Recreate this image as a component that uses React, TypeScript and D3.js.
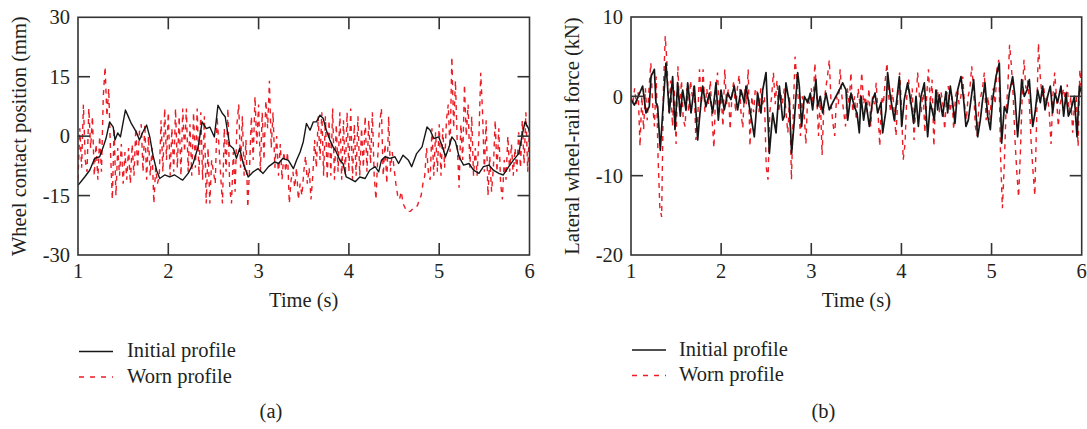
import React from 'react';
import * as d3 from 'd3';

// ---------- data ----------
const timeTicks = [1, 2, 3, 4, 5, 6];
const contactTicks = [-30, -15, 0, 15, 30];
const forceTicks = [-20, -10, 0, 10];
const seriesNames = ['Initial profile', 'Worn profile'];

// (a) wheel contact position, initial profile: [time, mm]
const contactInitial: [number, number][] = [
  [1.0,-12.4],[1.074,-10.3],[1.13,-8.6],[1.185,-5.6],[1.24,-5.2],[1.28,-2.7],[1.31,-0.6],[1.35,3.6],[1.39,2.3],[1.41,-1.0],
  [1.44,0.8],[1.47,-0.2],[1.49,2.3],[1.525,6.6],[1.55,5.3],[1.59,3.2],[1.645,1.1],[1.68,-1.0],[1.72,1.1],[1.76,2.8],
  [1.795,-0.2],[1.83,-4.8],[1.87,-8.6],[1.905,-10.7],[1.96,-9.8],[2.015,-10.3],[2.07,-9.8],[2.13,-10.7],[2.16,-11.1],[2.22,-9.4],
  [2.275,-6.9],[2.33,-2.7],[2.375,3.6],[2.42,1.9],[2.46,2.3],[2.51,-0.2],[2.55,7.8],[2.6,5.7],[2.63,4.9],[2.68,-2.3],
  [2.72,-3.1],[2.755,-5.6],[2.79,-3.1],[2.83,-6.9],[2.885,-10.3],[2.94,-9.0],[2.995,-8.2],[3.05,-9.4],[3.11,-7.7],[3.18,-6.5],
  [3.22,-6.9],[3.27,-5.6],[3.33,-6.1],[3.385,-8.2],[3.42,-6.1],[3.46,-4.0],[3.495,-1.4],[3.53,3.2],[3.57,1.5],[3.605,3.6],
  [3.64,3.6],[3.68,5.3],[3.715,4.5],[3.75,1.5],[3.79,-1.0],[3.825,-2.7],[3.86,-4.0],[3.9,-6.1],[3.935,-6.9],[3.97,-10.3],
  [4.01,-10.7],[4.07,-11.5],[4.12,-10.3],[4.18,-10.7],[4.23,-8.6],[4.29,-7.7],[4.33,-9.0],[4.36,-6.1],[4.4,-5.2],[4.455,-5.6],
  [4.51,-5.2],[4.55,-6.9],[4.6,-4.8],[4.66,-6.1],[4.695,-7.7],[4.75,-4.4],[4.81,-2.7],[4.865,2.3],[4.9,1.5],[4.94,-0.6],
  [4.995,-0.2],[5.03,-2.3],[5.07,-5.2],[5.11,-2.7],[5.14,-0.2],[5.18,-1.4],[5.22,-5.2],[5.27,-7.3],[5.33,-6.9],[5.38,-8.6],
  [5.44,-9.4],[5.49,-7.7],[5.55,-7.3],[5.6,-8.6],[5.66,-9.4],[5.71,-9.8],[5.77,-7.7],[5.82,-6.1],[5.88,-4.4],[5.915,-0.2],
  [5.95,3.6],[5.99,1.9],[6.0,1.0],
];

// (a) wheel contact position, worn profile: sampled every 0.02 s from t = 1
const contactWorn: number[] = [
  -11, 2, -8, 8, -6,   -9, 7, -3, 5, -10,   -2, -11, 0, -9, 10,   17.5, 5, 12, -4, -16,
  2, -15, -3, -10, -2,   -12, -4, -11, -3, -12,   -2, -10, 2, -8, 1,   3, -9, 3, -11, 0,
  -10, -3, -17, -8, -12,   -10, 4, -9, 7, -6,   6, -10, 2, -9, 7,   -8, 5, -10, 7, -4,
  7, -9, 3, -10, 6,   -8, 7, -10, 6, -11,   5, -17, -3, -17, -6,   -9, -12, 5, -2, -10,
  -17, 2, -9, 7, -13,   -17, -4, -14, 3, 8,   -8, 5, -10, -1, -18,   -8, 5, -6, 10, -2,
  8, -9, 6, -6, 9,   2, 14, -3, 6, -8,   0, -10, -2, -11, -4,   -9, -4, -17, -11, -9,
  -13, -8, -16, -12, -15,   -9, -5, -12, -8, -16,   -10, -1, -8, 5, -6,   6, -10, 5, -11, 4,
  -10, 7, -11, 3, -9,   6, -11, 4, -10, 6,   -9, 7, -11, 3, -10,   5, -10, 2, -8, 5,
  -9, 4, -7, 6, -10,   -16, -5, 3, 7, -10,   -2, -12, 5, -9, -4,   -8, -12, -15, -16, -14,
  -17, -18, -19, -19, -19,   -18.5, -18, -18, -17.5, -16,   -15, -12, -10, -3, -9,   -11, 2, -10, 1, -9,
  3, -10, 2, -8, 4,   8, -4, 20, 2, 14,   -2, -13, 3, -6, 13,   0, 8, -8, 5, -10,
  -3, -10, 0, 16, 6,   -9, 4, -15, -5, -14,   -8, 4, -9, 2, -12,   -16, -6, -11, 0, -9,
  -2, -10, -3, -9, 1,   -8, 4, -7, 6, -9,   2,
];

// (b) lateral wheel-rail force, initial profile: [time, kN]
const forceInitial: [number, number][] = [
  [1.0,-0.4],[1.037,-1.1],[1.074,-0.2],[1.129,1.3],[1.148,-0.4],[1.166,-2.1],[1.203,-1.3],[1.222,2.5],[1.259,3.4],[1.277,-0.8],
  [1.296,-1.3],[1.325,-6.8],[1.351,-2.1],[1.388,4.2],[1.425,-2.1],[1.462,2.5],[1.488,-4.2],[1.518,1.7],[1.547,-2.5],[1.573,0.8],
  [1.61,-1.7],[1.629,1.7],[1.666,-2.1],[1.703,1.3],[1.74,-5.5],[1.758,-3.0],[1.795,1.3],[1.832,-1.3],[1.869,0.4],[1.906,-2.1],
  [1.943,1.7],[1.969,-3.0],[1.998,0.8],[2.035,-1.7],[2.072,0.4],[2.109,-0.4],[2.146,1.3],[2.183,-1.7],[2.22,0.8],[2.257,-0.8],
  [2.276,1.3],[2.313,-1.3],[2.331,-2.5],[2.368,-5.1],[2.405,0.4],[2.442,-2.1],[2.461,0.8],[2.498,3.0],[2.535,-7.2],[2.572,-2.1],
  [2.609,-4.6],[2.646,1.3],[2.683,-3.0],[2.701,-2.5],[2.719,1.7],[2.756,-0.8],[2.782,-7.2],[2.812,-3.0],[2.849,3.0],[2.867,1.3],
  [2.893,-3.8],[2.923,0],[2.96,-0.8],[2.989,0.4],[3.015,-1.7],[3.052,2.1],[3.071,-1.3],[3.1,0],[3.126,-2.1],[3.163,0.4],
  [3.2,-1.7],[3.237,-0.8],[3.274,0],[3.311,0.8],[3.348,1.7],[3.385,0.8],[3.404,-3.0],[3.441,0.4],[3.478,-1.3],[3.507,-2.1],
  [3.533,-4.6],[3.552,0],[3.581,-3.0],[3.607,-0.8],[3.644,-3.8],[3.681,-0.4],[3.707,0.4],[3.736,-2.1],[3.773,-0.8],[3.792,-4.6],
  [3.829,-1.7],[3.847,3.0],[3.877,0],[3.921,-3.0],[3.94,-1.3],[3.977,2.5],[4.003,-3.8],[4.032,-0.4],[4.069,1.7],[4.106,-0.8],
  [4.136,-3.4],[4.162,0],[4.188,-3.8],[4.217,0],[4.254,1.7],[4.291,-5.1],[4.321,-0.8],[4.365,-3.0],[4.383,0.8],[4.402,-1.7],
  [4.42,0.2],[4.457,-2.5],[4.494,0.6],[4.513,-2.1],[4.542,1.3],[4.568,-0.8],[4.594,-3.4],[4.624,0.8],[4.661,2.5],[4.69,-0.4],
  [4.716,-3.8],[4.742,-3.0],[4.772,-0.4],[4.801,2.1],[4.827,-2.1],[4.846,-5.1],[4.875,-3.0],[4.901,-0.4],[4.927,1.7],[4.957,-2.5],
  [4.986,-4.2],[5.012,-0.4],[5.049,2.5],[5.086,4.2],[5.112,-5.9],[5.142,-1.3],[5.171,-2.1],[5.197,0.4],[5.234,2.5],[5.26,0],
  [5.289,-5.1],[5.319,-0.8],[5.334,2.1],[5.363,0],[5.393,0.8],[5.419,2.1],[5.456,-3.8],[5.482,-2.1],[5.511,0.8],[5.541,-0.8],
  [5.567,1.3],[5.593,-1.7],[5.622,0],[5.652,1.3],[5.678,-2.1],[5.704,0.4],[5.733,-0.8],[5.77,1.3],[5.8,-2.5],[5.826,0.4],
  [5.852,-2.5],[5.881,-1.7],[5.918,0],[5.948,-5.1],[5.974,1.3],[6.0,0.4],
];

// (b) lateral wheel-rail force, worn profile: sampled every 0.02 s from t = 1
const forceWorn: number[] = [
  0, -1, 1, -1, 0.5,   -6.3, 0, -4.2, 1, -3,   1, 4.2, -1, -3.8, 2.5,   -7.6, -14, -15.2, 1, 7.6,
  4, -2, 2, -3.8, 1,   -6, 3.8, -2, 2, -3,   -3.8, 1, -2, 2, 0,   1.5, -5.5, -3, 3.4, -1,
  3.4, -2, 1, -1, 2,   -3, -6.5, 1, 3, -2,   0, -3.8, 3.4, -1, 1,   -4.2, 0, 2, -2, 1,
  2.7, -2, -4, 1, -1,   3.4, -6.3, 0, -2, 1,   0.5, -2, 1, -1, 0,   -8.9, -10.5, -2, 0, 3,
  -1, 2, -2, 0.5, -1,   1, -2, -4.6, 0, -10.5,   -2, 5, 2, -1, -5,   0, -2, -6, 0, -1,
  1, -1, 4.2, 0, -5,   0, -7.4, -1, 1, 2.5,   4.6, -1, -3.4, -5, 0,   -1, 3.4, 0, -2, -3.8,
  1, -1, 3, -2, 0,   -3, 1, -1, 3, -1,   0, -2, 1, -3.8, 0,   -1, 1.7, -2, -6.3, 0,
  -1, 2, 4.2, 0, -2,   1, -2, -5, 0, 3,   -1, -8, -6, 0, 2.1,   -1, 1, -5.5, -1, 3,
  0, -2, 1, -4.6, 0,   3.4, -1, 2.1, -6.3, 0,   1, -2, 0.5, -1, -4.2,   0, 1.3, -2, 0, -4.2,
  0, 1, -1, 0, 2.5,   -1, -3, 0, 1, 3.8,   1, -3.8, -5, -1, 0,   1, 3, -3, 0, -3,
  0, 1, -1, 3.5, 4.6,   -7.6, -14.1, -9, -2, 1,   6.5, 3.8, 0, -5.5, -9.5,   -12.7, -7, 0, 4.6, 1,
  2, -1, -6, -9.5, -12.5,   -3, 6.7, 2.5, 0, 1,   -1, 0, -2, -6, 0,   3, 0, -3.8, -1, 0,
  1, -1, 1.5, -2, 0,   -4.6, -1, 0, -6.3, 3.4,   0,
];

const WORN_START = 1;
const WORN_STEP = 0.02;

// ---------- drawing ----------
const FONT = "'Liberation Serif', 'Times New Roman', serif";
const FS = 20.5;
const TEXT = '#231f20';
const AXIS = '#333333';
const RED = '#ec1c24';
const BLACK = '#161616';

type PanelProps = {
  left: number; right: number; top: number; bottom: number;
  yDomain: [number, number]; yTicks: number[]; yTitle: string;
  initial: [number, number][]; worn: number[]; initialWidth: number;
  legendLineX: number; legendTextX: number; legendY: number;
  tag: string; tagX: number;
};

function Panel(p: PanelProps) {
  const x = d3.scaleLinear().domain([1, 6]).range([p.left, p.right]);
  const y = d3.scaleLinear().domain(p.yDomain).range([p.bottom, p.top]);
  const line = d3.line<[number, number]>().x(d => x(d[0])).y(d => y(d[1]));
  const wornPts: [number, number][] = p.worn.map((v, i) => [WORN_START + i * WORN_STEP, v]);
  const tick = 12;
  const cx = (p.left + p.right) / 2;
  const cy = (p.top + p.bottom) / 2;
  const clipId = 'clip-' + p.tag.replace(/[()]/g, '');
  return (
    <g>
      <defs>
        <clipPath id={clipId}>
          <rect x={p.left} y={p.top} width={p.right - p.left} height={p.bottom - p.top} />
        </clipPath>
      </defs>
      <g clipPath={`url(#${clipId})`}>
        <path d={line(wornPts) || ''} fill="none" stroke={RED} strokeWidth={1.4} strokeDasharray="5,5" />
        <path d={line(p.initial) || ''} fill="none" stroke={BLACK} strokeWidth={p.initialWidth} strokeLinejoin="round" />
      </g>
      <rect x={p.left} y={p.top} width={p.right - p.left} height={p.bottom - p.top} fill="none" stroke={AXIS} strokeWidth={1.6} />
      {timeTicks.map(t => (
        <g key={'xt' + t}>
          {t > 1 && t < 6 && (
            <>
              <line x1={x(t)} x2={x(t)} y1={p.bottom} y2={p.bottom - tick} stroke={AXIS} strokeWidth={1.6} />
              <line x1={x(t)} x2={x(t)} y1={p.top} y2={p.top + tick} stroke={AXIS} strokeWidth={1.6} />
            </>
          )}
          <text x={x(t)} y={p.bottom + 23} textAnchor="middle" fontFamily={FONT} fontSize={FS} fill={TEXT}>{t}</text>
        </g>
      ))}
      {p.yTicks.map(v => (
        <g key={'yt' + v}>
          {v > p.yDomain[0] && v < p.yDomain[1] && (
            <>
              <line x1={p.left} x2={p.left + tick} y1={y(v)} y2={y(v)} stroke={AXIS} strokeWidth={1.6} />
              <line x1={p.right} x2={p.right - tick} y1={y(v)} y2={y(v)} stroke={AXIS} strokeWidth={1.6} />
            </>
          )}
          <text x={p.left - 8} y={y(v)} dy="0.35em" textAnchor="end" fontFamily={FONT} fontSize={FS} fill={TEXT}>{v}</text>
        </g>
      ))}
      <text x={cx} y={p.bottom + 52} textAnchor="middle" fontFamily={FONT} fontSize={FS} fill={TEXT}>Time (s)</text>
      <text transform={`translate(${p.left - 52},${cy}) rotate(-90)`} textAnchor="middle" fontFamily={FONT} fontSize={FS} fill={TEXT}>{p.yTitle}</text>
      <line x1={p.legendLineX} x2={p.legendLineX + 34} y1={p.legendY} y2={p.legendY} stroke={BLACK} strokeWidth={1.3} />
      <text x={p.legendTextX} y={p.legendY + 5.5} fontFamily={FONT} fontSize={FS} fill={TEXT}>{seriesNames[0]}</text>
      <line x1={p.legendLineX} x2={p.legendLineX + 34} y1={p.legendY + 25.5} y2={p.legendY + 25.5} stroke={RED} strokeWidth={1.3} strokeDasharray="5,6" />
      <text x={p.legendTextX} y={p.legendY + 31} fontFamily={FONT} fontSize={FS} fill={TEXT}>{seriesNames[1]}</text>
      <text x={p.tagX} y={418} textAnchor="middle" fontFamily={FONT} fontSize={FS} fill={TEXT}>{p.tag}</text>
    </g>
  );
}

export default function App() {
  return (
    <svg width={1087} height={429} style={{ position: 'absolute', left: 0, top: 0, background: '#fff' }}>
      <rect width={1087} height={429} fill="#fff" />
      <Panel left={78} right={529.5} top={17.3} bottom={255}
        yDomain={[-30, 30]} yTicks={contactTicks} yTitle="Wheel contact position (mm)"
        initial={contactInitial} worn={contactWorn} initialWidth={1.4}
        legendLineX={79} legendTextX={127} legendY={351.5} tag="(a)" tagX={271} />
      <Panel left={631} right={1081.7} top={17} bottom={255}
        yDomain={[-20, 10]} yTicks={forceTicks} yTitle="Lateral wheel-rail force (kN)"
        initial={forceInitial} worn={forceWorn} initialWidth={1.7}
        legendLineX={632} legendTextX={679} legendY={350} tag="(b)" tagX={823.5} />
    </svg>
  );
}
